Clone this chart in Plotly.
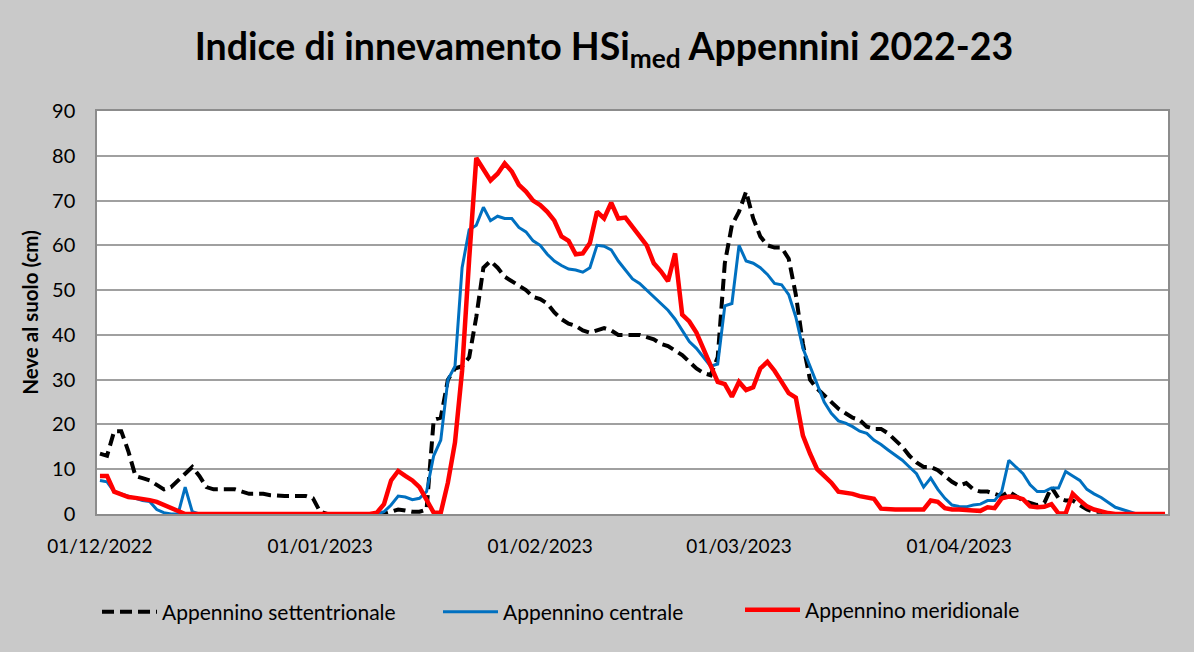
import pandas as pd
import plotly.graph_objects as go

dates = pd.date_range("2022-12-01", "2023-04-30", freq="D")

tick_dates = ["2022-12-01", "2023-01-01", "2023-02-01", "2023-03-01", "2023-04-01"]
tick_labels = ["01/12/2022", "01/01/2023", "01/02/2023", "01/03/2023", "01/04/2023"]

series_names = ["Appennino settentrionale", "Appennino centrale", "Appennino meridionale"]

settentrionale = [
    13.5, 13, 18.5, 18.5, 14, 8.5, 8, 7.5, 6.5, 5.5,
    6, 7.5, 9, 10.5, 8.5, 6, 5.5, 5.5, 5.5, 5.5,
    5, 4.5, 4.5, 4.5, 4.2, 4, 4, 4, 4, 4,
    3.5, 0.5, 0, 0, 0, 0, 0, 0, 0, 0,
    0, 0.5, 1, 0.8, 0.5, 0.5, 1, 21, 21.5, 30,
    32.5, 33, 35, 44, 55, 56.5, 55, 53, 52, 51,
    50, 48.5, 48, 47, 45, 43.5, 42.5, 42, 41, 40.5,
    41, 41.5, 41, 40, 40, 40, 40, 39.5, 39, 38,
    37.5, 36.5, 35.5, 34, 32.5, 31.5, 31, 35, 56, 64.5,
    67.5, 72, 66, 62, 60, 59.5, 59.5, 57, 49, 38,
    30, 28, 26.5, 25, 23.5, 22.5, 21.5, 21, 19.5, 19,
    19, 18, 16.5, 15, 13, 11.5, 10.5, 10.5, 9.8, 8.5,
    7.2, 6.3, 6.9, 5.5, 5, 5, 4.5, 4, 5, 4,
    3, 2.5, 2, 2.5, 6, 3.5, 3, 3, 2, 1,
    0.5, 0.5, 0, 0, 0, 0, 0, 0, 0, 0,
    0,
]

centrale = [
    7.5, 7.2, 5, 4.5, 4, 3.5, 3, 2.8, 1, 0.3,
    0, 0, 6, 0.5, 0, 0, 0, 0, 0, 0,
    0, 0, 0, 0, 0, 0, 0, 0, 0, 0,
    0, 0, 0, 0, 0, 0, 0, 0, 0, 0,
    0.5, 2, 4, 3.8, 3.2, 3.5, 5, 13, 16.5, 30,
    33, 55, 63.5, 64.5, 68.5, 65.5, 66.5, 66, 66, 64,
    63, 61, 60, 58, 56.5, 55.5, 54.7, 54.5, 54, 55,
    60, 59.8, 59, 56.5, 54.5, 52.5, 51.5, 50, 48.5, 47,
    45.5, 43.5, 41, 38.5, 37, 35, 33, 33.5, 46.5, 47,
    60, 56.5, 56, 55, 53.5, 51.5, 51.2, 49, 44, 37,
    33, 29, 25, 22.5, 20.8, 20.3, 19.5, 18.5, 18, 16.5,
    15.5, 14.3, 13.2, 12, 10.5, 9, 6, 8, 5.5, 3.5,
    2, 1.7, 1.6, 2, 2.2, 3, 3, 5, 12, 10.5,
    9, 6.5, 5, 5, 5.8, 5.8, 9.5, 8.5, 7.5, 5.5,
    4.5, 3.7, 2.5, 1.5, 1, 0.5, 0, 0, 0, 0,
    0,
]

meridionale = [
    8.5, 8.5, 5, 4.3, 3.8, 3.6, 3.4, 3.1, 2.7, 2,
    1.3, 0.5, 0, 0, 0, 0, 0, 0, 0, 0,
    0, 0, 0, 0, 0, 0, 0, 0, 0, 0,
    0, 0, 0, 0, 0, 0, 0, 0, 0, 0.3,
    2.2, 7.5, 9.6, 8.5, 7.5, 6, 3, 0.3, 0.3, 7,
    16, 32, 57, 79.5, 77, 74.5, 76, 78.3, 76.5, 73.5,
    72, 70, 69, 67.5, 65.5, 62, 61, 58, 58.2, 60.5,
    67.5, 66, 69.5, 66, 66.2, 64, 62, 60, 56, 54.2,
    52, 58.2, 44.5, 43, 40.5, 37, 33.5, 29.5, 29, 26.2,
    29.5, 27.7, 28.3, 32.5, 34, 32, 29.5, 27, 26, 17.5,
    13.5, 10, 8.5, 7, 5, 4.8, 4.5, 4, 3.6, 3.4,
    1.2, 1, 1, 1, 1, 1, 1, 3, 2.7, 1.3,
    1, 1, 0.8, 0.8, 0.7, 1.5, 1.3, 3.5, 3.9, 3.8,
    3.3, 1.7, 1.5, 1.6, 2.2, 0.1, 0.1, 4.5, 3, 1.7,
    1, 0.5, 0.2, 0, 0, 0, 0, 0, 0, 0,
    0,
]

FONT = "Lato, Carlito, Calibri, sans-serif"
BG = "#C9C9C9"
W, H = 1194, 652
L, R, T, B = 97, 26, 111, 138

fig = go.Figure()
fig.add_trace(go.Scatter(
    x=dates, y=settentrionale, mode="lines", name=series_names[0], showlegend=True,
    line=dict(color="#000000", width=4, dash="12px,6px"), legend="legend"))
fig.add_trace(go.Scatter(
    x=dates, y=centrale, mode="lines", name=series_names[1], showlegend=True,
    line=dict(color="#0070C0", width=3), legend="legend2"))
fig.add_trace(go.Scatter(
    x=dates, y=meridionale, mode="lines", name=series_names[2], showlegend=True,
    line=dict(color="#FF0000", width=4.5), legend="legend3"))

pw = W - L - R
ph = H - T - B


def px_x(p):
    return (p - L) / pw


def px_y(p):
    return (H - B - p) / ph


leg_common = dict(orientation="h", yanchor="middle", xanchor="left",
                  bgcolor="rgba(0,0,0,0)", font=dict(family=FONT, size=21, color="#000000"),
                  itemwidth=55, visible=True)

fig.update_layout(
    width=W, height=H,
    showlegend=True,
    margin=dict(l=L, r=R, t=T, b=B, autoexpand=False),
    paper_bgcolor=BG,
    plot_bgcolor="#FFFFFF",
    font=dict(family=FONT, color="#000000"),
    title=dict(
        text="<b>Indice di innevamento HSi<sub>med</sub> Appennini 2022-23</b>",
        font=dict(family=FONT, size=37.5, color="#000000"),
        x=604 / W, xref="container", xanchor="center",
        y=1 - 47 / H, yref="container", yanchor="middle"),
    xaxis=dict(
        type="date",
        range=[pd.Timestamp("2022-12-01") - pd.Timedelta(hours=10),
               pd.Timestamp("2023-04-30") + pd.Timedelta(hours=10)],
        tickvals=tick_dates, ticktext=tick_labels,
        tickfont=dict(family=FONT, size=19, color="#000000"),
        showgrid=False, showline=True, linecolor="#8C8C8C", linewidth=1.5, mirror=True,
        ticks="", ticklabelstandoff=14, zeroline=False),
    yaxis=dict(
        range=[0, 90], dtick=10, tick0=0,
        tickfont=dict(family=FONT, size=20, color="#000000"),
        showgrid=True, gridcolor="#A0A0A0", gridwidth=1.5,
        showline=True, linecolor="#8C8C8C", linewidth=1.5, mirror=True,
        ticks="", ticklabelstandoff=16, zeroline=False,
        title=dict(text="<b>Neve al suolo (cm)</b>", font=dict(family=FONT, size=20.5, color="#000000"),
                   standoff=8)),
    legend=dict(x=0.0, y=px_y(612), **leg_common),
    legend2=dict(x=px_x(438), y=px_y(612), **leg_common),
    legend3=dict(x=px_x(740), y=px_y(610), **leg_common),
)

fig.write_html(
    "out.html",
    config={"displayModeBar": False},
    post_script=(
        "document.documentElement.style.margin='0';"
        "document.body.style.margin='0';"
        "document.body.style.background='" + BG + "';"
    ),
)
